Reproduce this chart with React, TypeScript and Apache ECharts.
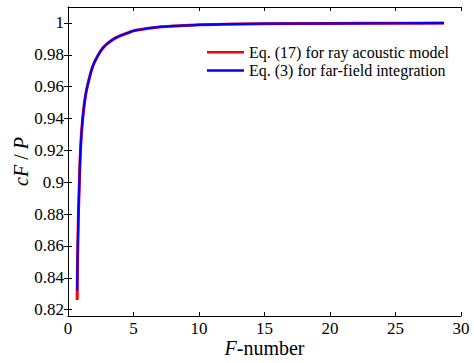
import React, { useEffect, useRef } from "react";
import * as echarts from "echarts";

const fNumbers = [0.70, 0.72, 0.75, 0.78, 0.80, 0.85, 0.90, 0.95, 1.00, 1.10, 1.20, 1.35, 1.50, 1.65, 1.80, 2.00, 2.25, 2.50, 2.75, 3.00, 3.50, 4.00, 4.50, 5.00, 6.00, 7.00, 8.00, 10.0, 12.0, 15.0, 20.0, 25.0, 28.7];
const eq17Values = [0.826, 0.845, 0.860, 0.873, 0.881, 0.895, 0.909, 0.919, 0.927, 0.938, 0.946, 0.955, 0.961, 0.966, 0.9705, 0.975, 0.979, 0.9825, 0.985, 0.987, 0.990, 0.992, 0.9935, 0.995, 0.9965, 0.9975, 0.998, 0.9988, 0.9992, 0.9995, 0.9997, 0.9998, 0.9999];
const eq3Values = [0.832, 0.849, 0.862, 0.874, 0.882, 0.895, 0.909, 0.919, 0.927, 0.938, 0.946, 0.955, 0.961, 0.966, 0.9705, 0.975, 0.979, 0.9825, 0.985, 0.987, 0.990, 0.992, 0.9935, 0.995, 0.9965, 0.9975, 0.998, 0.9988, 0.9992, 0.9995, 0.9997, 0.9998, 0.9999];
const xTicks = [0, 5, 10, 15, 20, 25, 30];
const yTicks = [0.82, 0.84, 0.86, 0.88, 0.9, 0.92, 0.94, 0.96, 0.98, 1];
const seriesNames = ["Eq. (17) for ray acoustic model", "Eq. (3) for far-field integration"];

const FONT = "Liberation Serif";

export default function App() {
  const ref = useRef<HTMLDivElement>(null);
  useEffect(() => {
    if (!ref.current) return;
    const chart = echarts.init(ref.current, null, { renderer: "svg" });
    const pairs = (vals: number[]) => fNumbers.map((f, i) => [f, vals[i]]);
    const axisLine = { show: true, lineStyle: { color: "#000", width: 1 } };
    const tick = { show: true, inside: true, length: 4, lineStyle: { color: "#000", width: 1 } };
    chart.setOption({
      animation: false,
      backgroundColor: "#fff",
      textStyle: { fontFamily: FONT },
      grid: { left: 68, top: 7, width: 393, height: 310, containLabel: false },
      legend: {
        show: true,
        orient: "vertical",
        left: 202,
        top: 38,
        itemWidth: 37,
        itemHeight: 2.5,
        itemGap: 0,
        icon: "rect",
        data: seriesNames,
        textStyle: { fontFamily: FONT, fontSize: 16, color: "#000", lineHeight: 18.3 },
      },
      xAxis: [
        {
          type: "value",
          min: 0,
          max: 30,
          interval: 5,
          position: "bottom",
          axisLine,
          axisTick: { ...tick, customValues: xTicks },
          axisLabel: { margin: 4, fontFamily: FONT, fontSize: 17, color: "#000", customValues: xTicks },
          splitLine: { show: false },
          name: "{i|F}-number",
          nameLocation: "middle",
          nameGap: 22,
          nameMoveOverlap: false,
          nameTextStyle: {
            fontFamily: FONT,
            fontSize: 20,
            color: "#000",
            rich: { i: { fontFamily: FONT, fontSize: 20, fontStyle: "italic", color: "#000" } },
          },
        },
        {
          type: "value",
          min: 0,
          max: 30,
          interval: 5,
          position: "top",
          axisLine,
          axisTick: { ...tick, customValues: xTicks },
          axisLabel: { show: false },
          splitLine: { show: false },
        },
      ],
      yAxis: [
        {
          type: "value",
          min: 0.816,
          max: 1.01,
          position: "left",
          axisLine,
          axisTick: { ...tick, customValues: yTicks },
          axisLabel: {
            margin: 4,
            fontFamily: FONT,
            fontSize: 17,
            color: "#000",
            customValues: yTicks,
            formatter: (v: number) => String(Math.round(v * 100) / 100),
          },
          splitLine: { show: false },
          name: "{i|cF} / {i|P}",
          nameLocation: "middle",
          nameGap: 37,
          nameMoveOverlap: false,
          nameTextStyle: {
            fontFamily: FONT,
            fontSize: 20,
            color: "#000",
            rich: { i: { fontFamily: FONT, fontSize: 20, fontStyle: "italic", color: "#000" } },
          },
        },
        {
          type: "value",
          min: 0.816,
          max: 1.01,
          position: "right",
          axisLine,
          axisTick: { ...tick, customValues: yTicks },
          axisLabel: { show: false, customValues: yTicks },
          splitLine: { show: false },
        },
      ],
      series: [
        {
          name: seriesNames[0],
          type: "line",
          data: pairs(eq17Values),
          showSymbol: false,
          smooth: 0.3,
          color: "#ff0000",
          lineStyle: { color: "#ff0000", width: 3 },
          xAxisIndex: 0,
          yAxisIndex: 0,
        },
        {
          name: seriesNames[1],
          type: "line",
          data: pairs(eq3Values),
          showSymbol: false,
          smooth: 0.3,
          color: "#0000ff",
          lineStyle: { color: "#0000ff", width: 2.2 },
          xAxisIndex: 0,
          yAxisIndex: 0,
        },
      ],
    });
    return () => chart.dispose();
  }, []);
  return (
    <div
      ref={ref}
      style={{ position: "fixed", left: 0, top: 0, width: 474, height: 363, background: "#fff" }}
    />
  );
}
